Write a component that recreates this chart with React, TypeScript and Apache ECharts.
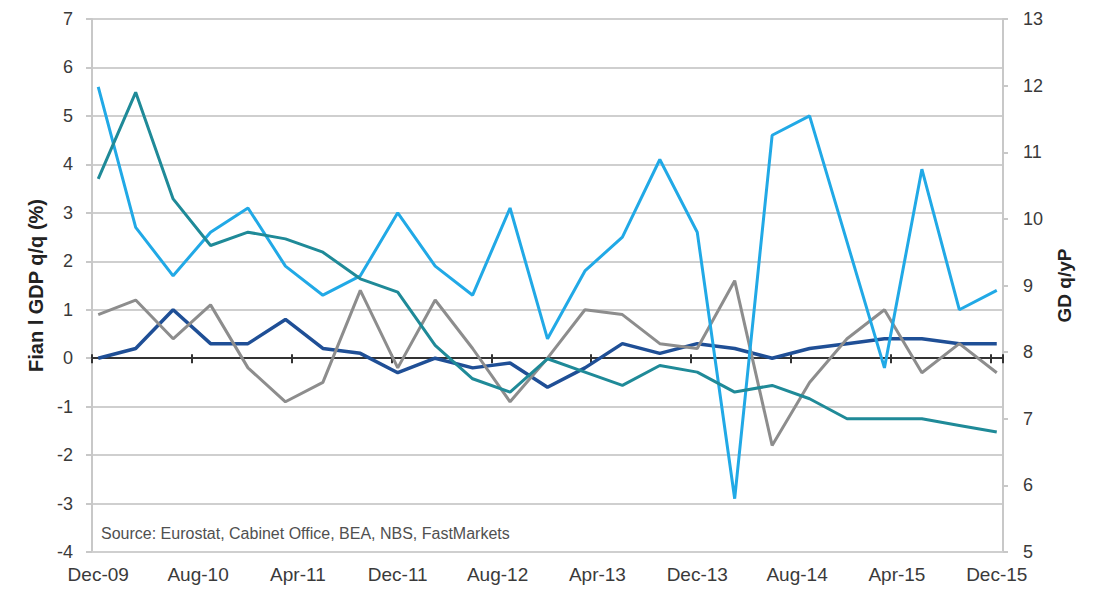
import React, { useEffect, useRef } from "react";
import * as echarts from "echarts";

// Quarterly observation dates
const quarterLabels = [
  "Dec-09", "Mar-10", "Jun-10", "Sep-10", "Dec-10", "Mar-11", "Jun-11", "Sep-11",
  "Dec-11", "Mar-12", "Jun-12", "Sep-12", "Dec-12", "Mar-13", "Jun-13", "Sep-13",
  "Dec-13", "Mar-14", "Jun-14", "Sep-14", "Dec-14", "Mar-15", "Jun-15", "Sep-15", "Dec-15",
];

// Axis tick labels (every 8 months)
const tickLabels = [
  "Dec-09", "Aug-10", "Apr-11", "Dec-11", "Aug-12", "Apr-13", "Dec-13", "Aug-14", "Apr-15", "Dec-15",
];

// Light blue (left axis)
const usGdp = [
  5.6, 2.7, 1.7, 2.6, 3.1, 1.9, 1.3, 1.7, 3.0, 1.9, 1.3, 3.1, 0.4,
  1.8, 2.5, 4.1, 2.6, -2.9, 4.6, 5.0, 2.4, -0.2, 3.9, 1.0, 1.4,
];
// Teal (right axis, y/y)
const chinaGdp = [
  10.6, 11.9, 10.3, 9.6, 9.8, 9.7, 9.5, 9.1, 8.9, 8.1, 7.6, 7.4, 7.9,
  7.7, 7.5, 7.8, 7.7, 7.4, 7.5, 7.3, 7.0, 7.0, 7.0, 6.9, 6.8,
];
// Dark blue (left axis)
const euroGdp = [
  0.0, 0.2, 1.0, 0.3, 0.3, 0.8, 0.2, 0.1, -0.3, 0.0, -0.2, -0.1, -0.6,
  -0.2, 0.3, 0.1, 0.3, 0.2, 0.0, 0.2, 0.3, 0.4, 0.4, 0.3, 0.3,
];
// Grey (left axis)
const japanGdp = [
  0.9, 1.2, 0.4, 1.1, -0.2, -0.9, -0.5, 1.4, -0.2, 1.2, 0.2, -0.9, 0.0,
  1.0, 0.9, 0.3, 0.2, 1.6, -1.8, -0.5, 0.4, 1.0, -0.3, 0.3, -0.3,
];

const MONTH_NAMES = ["Jan", "Feb", "Mar", "Apr", "May", "Jun", "Jul", "Aug", "Sep", "Oct", "Nov", "Dec"];

function buildMonths(): string[] {
  const out: string[] = [];
  let m = 11;
  let y = 2009;
  while (true) {
    out.push(MONTH_NAMES[m] + "-" + String(y % 100).padStart(2, "0"));
    if (y === 2015 && m === 11) break;
    m++;
    if (m > 11) { m = 0; y++; }
  }
  return out;
}

const months = buildMonths();

function toMonthly(values: number[]): (number | null)[] {
  const arr: (number | null)[] = months.map(() => null);
  values.forEach((v, i) => {
    const idx = months.indexOf(quarterLabels[i]);
    if (idx >= 0) arr[idx] = v;
  });
  return arr;
}

const FONT = "'Liberation Sans', Arial, sans-serif";
const isTick = (idx: number, val: string) => tickLabels.includes(months[idx] ?? val);

export default function App() {
  const ref = useRef<HTMLDivElement>(null);

  useEffect(() => {
    if (!ref.current) return;
    const chart = echarts.init(ref.current, undefined, { renderer: "svg" });

    const lineSeries = (name: string, data: number[], color: string, yAxisIndex: number, width = 3) => ({
      name,
      type: "line",
      xAxisIndex: 0,
      yAxisIndex,
      data: toMonthly(data),
      connectNulls: true,
      showSymbol: false,
      symbol: "none",
      lineStyle: { color, width },
      itemStyle: { color },
    });

    chart.setOption({
      animation: false,
      backgroundColor: "#ffffff",
      grid: { left: 92, right: 97, top: 19, bottom: 48, containLabel: false },
      xAxis: [
        {
          type: "category",
          data: months,
          boundaryGap: true,
          position: "bottom",
          axisLine: { show: true, onZero: false, lineStyle: { color: "#cfcfcf", width: 2 } },
          axisTick: { show: false },
          axisLabel: {
            interval: (idx: number, val: string) => isTick(idx, val),
            color: "#3a3a3a",
            fontSize: 19,
            fontFamily: FONT,
            margin: 13,
          },
          splitLine: { show: false },
        },
        {
          type: "category",
          data: months,
          boundaryGap: true,
          position: "bottom",
          axisLine: { show: true, onZero: true, onZeroAxisIndex: 0, lineStyle: { color: "#333333", width: 2 } },
          axisTick: {
            show: true,
            inside: false,
            length: 5,
            interval: (idx: number, val: string) => isTick(idx, val),
            lineStyle: { color: "#333333", width: 2 },
          },
          axisLabel: { show: false },
          splitLine: { show: false },
        },
        {
          type: "category",
          data: months,
          boundaryGap: true,
          position: "bottom",
          axisLine: { show: true, onZero: true, onZeroAxisIndex: 0, lineStyle: { color: "#333333", width: 2 } },
          axisTick: {
            show: true,
            inside: true,
            length: 4,
            interval: (idx: number, val: string) => isTick(idx, val),
            lineStyle: { color: "#333333", width: 2 },
          },
          axisLabel: { show: false },
          splitLine: { show: false },
        },
      ],
      yAxis: [
        {
          type: "value",
          position: "left",
          min: -4,
          max: 7,
          interval: 1,
          name: "Fian l GDP q/q (%)",
          nameLocation: "middle",
          nameRotate: 90,
          nameGap: 43,
          nameTextStyle: { color: "#222222", fontSize: 20, fontWeight: "bold", fontFamily: FONT },
          axisLine: { show: true, lineStyle: { color: "#c8c8c8", width: 2 } },
          axisTick: { show: true, length: 6, lineStyle: { color: "#c8c8c8", width: 2 } },
          axisLabel: { color: "#3a3a3a", fontSize: 18, fontFamily: FONT, margin: 19 },
          splitLine: { show: true, lineStyle: { color: "#cfcfcf", width: 2 } },
        },
        {
          type: "value",
          position: "right",
          min: 5,
          max: 13,
          interval: 1,
          name: "GD q/yP",
          nameLocation: "middle",
          nameRotate: 90,
          nameGap: 52,
          nameTextStyle: { color: "#222222", fontSize: 19, fontWeight: "bold", fontFamily: FONT },
          axisLine: { show: true, lineStyle: { color: "#c8c8c8", width: 2 } },
          axisTick: { show: true, length: 5, lineStyle: { color: "#c8c8c8", width: 2 } },
          axisLabel: { color: "#3a3a3a", fontSize: 18, fontFamily: FONT, margin: 20 },
          splitLine: { show: false },
        },
      ],
      series: [
        lineSeries("Eurozone", euroGdp, "#1f4f96", 0, 3.5),
        lineSeries("Japan", japanGdp, "#8d8d8d", 0, 3),
        lineSeries("US", usGdp, "#21a9e6", 0, 3),
        lineSeries("China", chinaGdp, "#1f8a98", 1, 3),
      ],
      graphic: [
        {
          type: "text",
          left: 101,
          top: 525,
          style: {
            text: "Source: Eurostat, Cabinet Office, BEA, NBS, FastMarkets",
            fill: "#505050",
            fontSize: 16,
            fontFamily: FONT,
          },
        },
      ],
    });

    return () => chart.dispose();
  }, []);

  return (
    <div
      ref={ref}
      style={{ position: "absolute", left: 0, top: 0, width: 1100, height: 600 }}
    />
  );
}
